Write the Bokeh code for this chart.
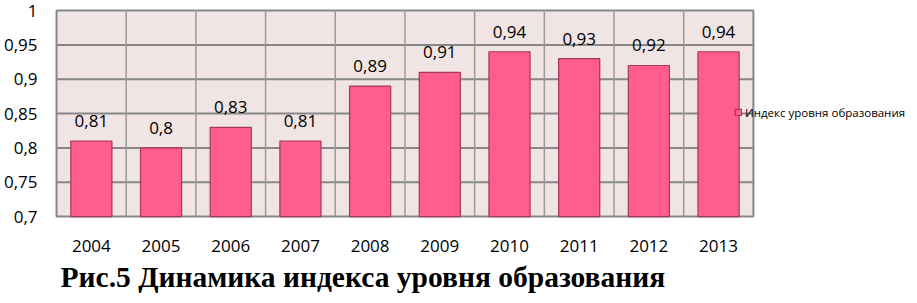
from bokeh.plotting import figure
from bokeh.models import FixedTicker, Legend, LegendItem, Range1d
from bokeh.core.properties import value
from bokeh.embed import file_html
from bokeh.resources import INLINE

years = [2004, 2005, 2006, 2007, 2008, 2009, 2010, 2011, 2012, 2013]
year_labels = [str(y) for y in years]
index_values = [0.81, 0.80, 0.83, 0.81, 0.89, 0.91, 0.94, 0.93, 0.92, 0.94]
value_labels = ["0,81", "0,8", "0,83", "0,81", "0,89", "0,91", "0,94", "0,93", "0,92", "0,94"]
y_ticks = [0.7, 0.75, 0.8, 0.85, 0.9, 0.95, 1.0]
y_tick_labels = ["0,7", "0,75", "0,8", "0,85", "0,9", "0,95", "1"]
series_name = "Индекс уровня образования"
caption = "Рис.5 Динамика индекса уровня образования"

FONT = "Open Sans"
PLOT_BG = "#F0E4E4"
GRID = "#878787"

# plot area (data region); white room on the right (legend) and below (labels, caption)
x_lo, x_hi = years[0] - 0.5, years[-1] + 0.5
pad_x, legend_room = 0.029, 2.24
pad_top, bottom_room = 0.003, 0.115

p = figure(width=909, height=295, output_backend="svg", toolbar_location=None,
           x_axis_location=None,
           x_range=Range1d(x_lo - pad_x, x_hi + legend_room),
           y_range=Range1d(y_ticks[0] - bottom_room, y_ticks[-1] + pad_top),
           min_border_left=54, min_border_right=0,
           min_border_top=8, min_border_bottom=0)

p.background_fill_color = "white"
p.border_fill_color = "white"
p.outline_line_color = None

# y axis
p.yaxis.ticker = FixedTicker(ticks=y_ticks)
p.yaxis.major_label_overrides = {t: s for t, s in zip(y_ticks, y_tick_labels)}
p.yaxis.axis_line_color = None
p.yaxis.major_tick_line_color = None
p.yaxis.minor_tick_line_color = None
p.yaxis.major_label_text_font = FONT
p.yaxis.major_label_text_font_size = "17px"
p.yaxis.major_label_text_color = "black"
p.yaxis.major_label_standoff = 11
p.xgrid.grid_line_color = None
p.ygrid.grid_line_color = None

# plot area background + border
p.quad(left=[x_lo], right=[x_hi], bottom=[y_ticks[0]], top=[y_ticks[-1]],
       fill_color=PLOT_BG, line_color=GRID, line_width=2, level="image")

# horizontal grid lines (within plot area)
inner_y = y_ticks[1:-1]
p.segment(x0=[x_lo] * len(inner_y), x1=[x_hi] * len(inner_y), y0=inner_y, y1=inner_y,
          line_color=GRID, line_width=2, level="underlay")
# vertical category separators
seps = [y + 0.5 for y in years[:-1]]
p.segment(x0=seps, x1=seps, y0=[y_ticks[0]] * len(seps), y1=[y_ticks[-1]] * len(seps),
          line_color="#9A9A9A", line_width=1.5, level="underlay")

bars = p.vbar(x=years, top=index_values, bottom=y_ticks[0], width=0.59,
              fill_color="#FF5C90", line_color="#A3375C", line_width=1.2)

# value labels above bars
p.text(x=years, y=index_values, text=value_labels, text_align="center",
       text_baseline="alphabetic", y_offset=-20, text_font=value(FONT),
       text_font_size="17px", text_color="black")

# category (year) labels under the plot area
p.text(x=years, y=[y_ticks[0]] * len(years), text=year_labels, text_align="center",
       text_baseline="alphabetic", y_offset=29, text_font=value(FONT),
       text_font_size="17px", text_color="black")

# caption
p.text(x=[x_lo], y=[y_ticks[0]], text=[caption], text_align="left",
       text_baseline="alphabetic", x_offset=4, y_offset=60,
       text_font=value("Liberation Serif"), text_font_style=value("bold"),
       text_font_size="29.5px", text_color="black")

legend = Legend(items=[LegendItem(label=series_name, renderers=[bars])],
                location=(680, 175), orientation="vertical",
                glyph_width=8, glyph_height=8, label_height=16,
                label_standoff=3, padding=0, margin=0, spacing=0,
                label_text_font=FONT, label_text_font_size="11.5px",
                label_text_color="black",
                background_fill_alpha=0, border_line_alpha=0)
p.add_layout(legend)

open("out.html", "w").write(file_html(p, INLINE))
